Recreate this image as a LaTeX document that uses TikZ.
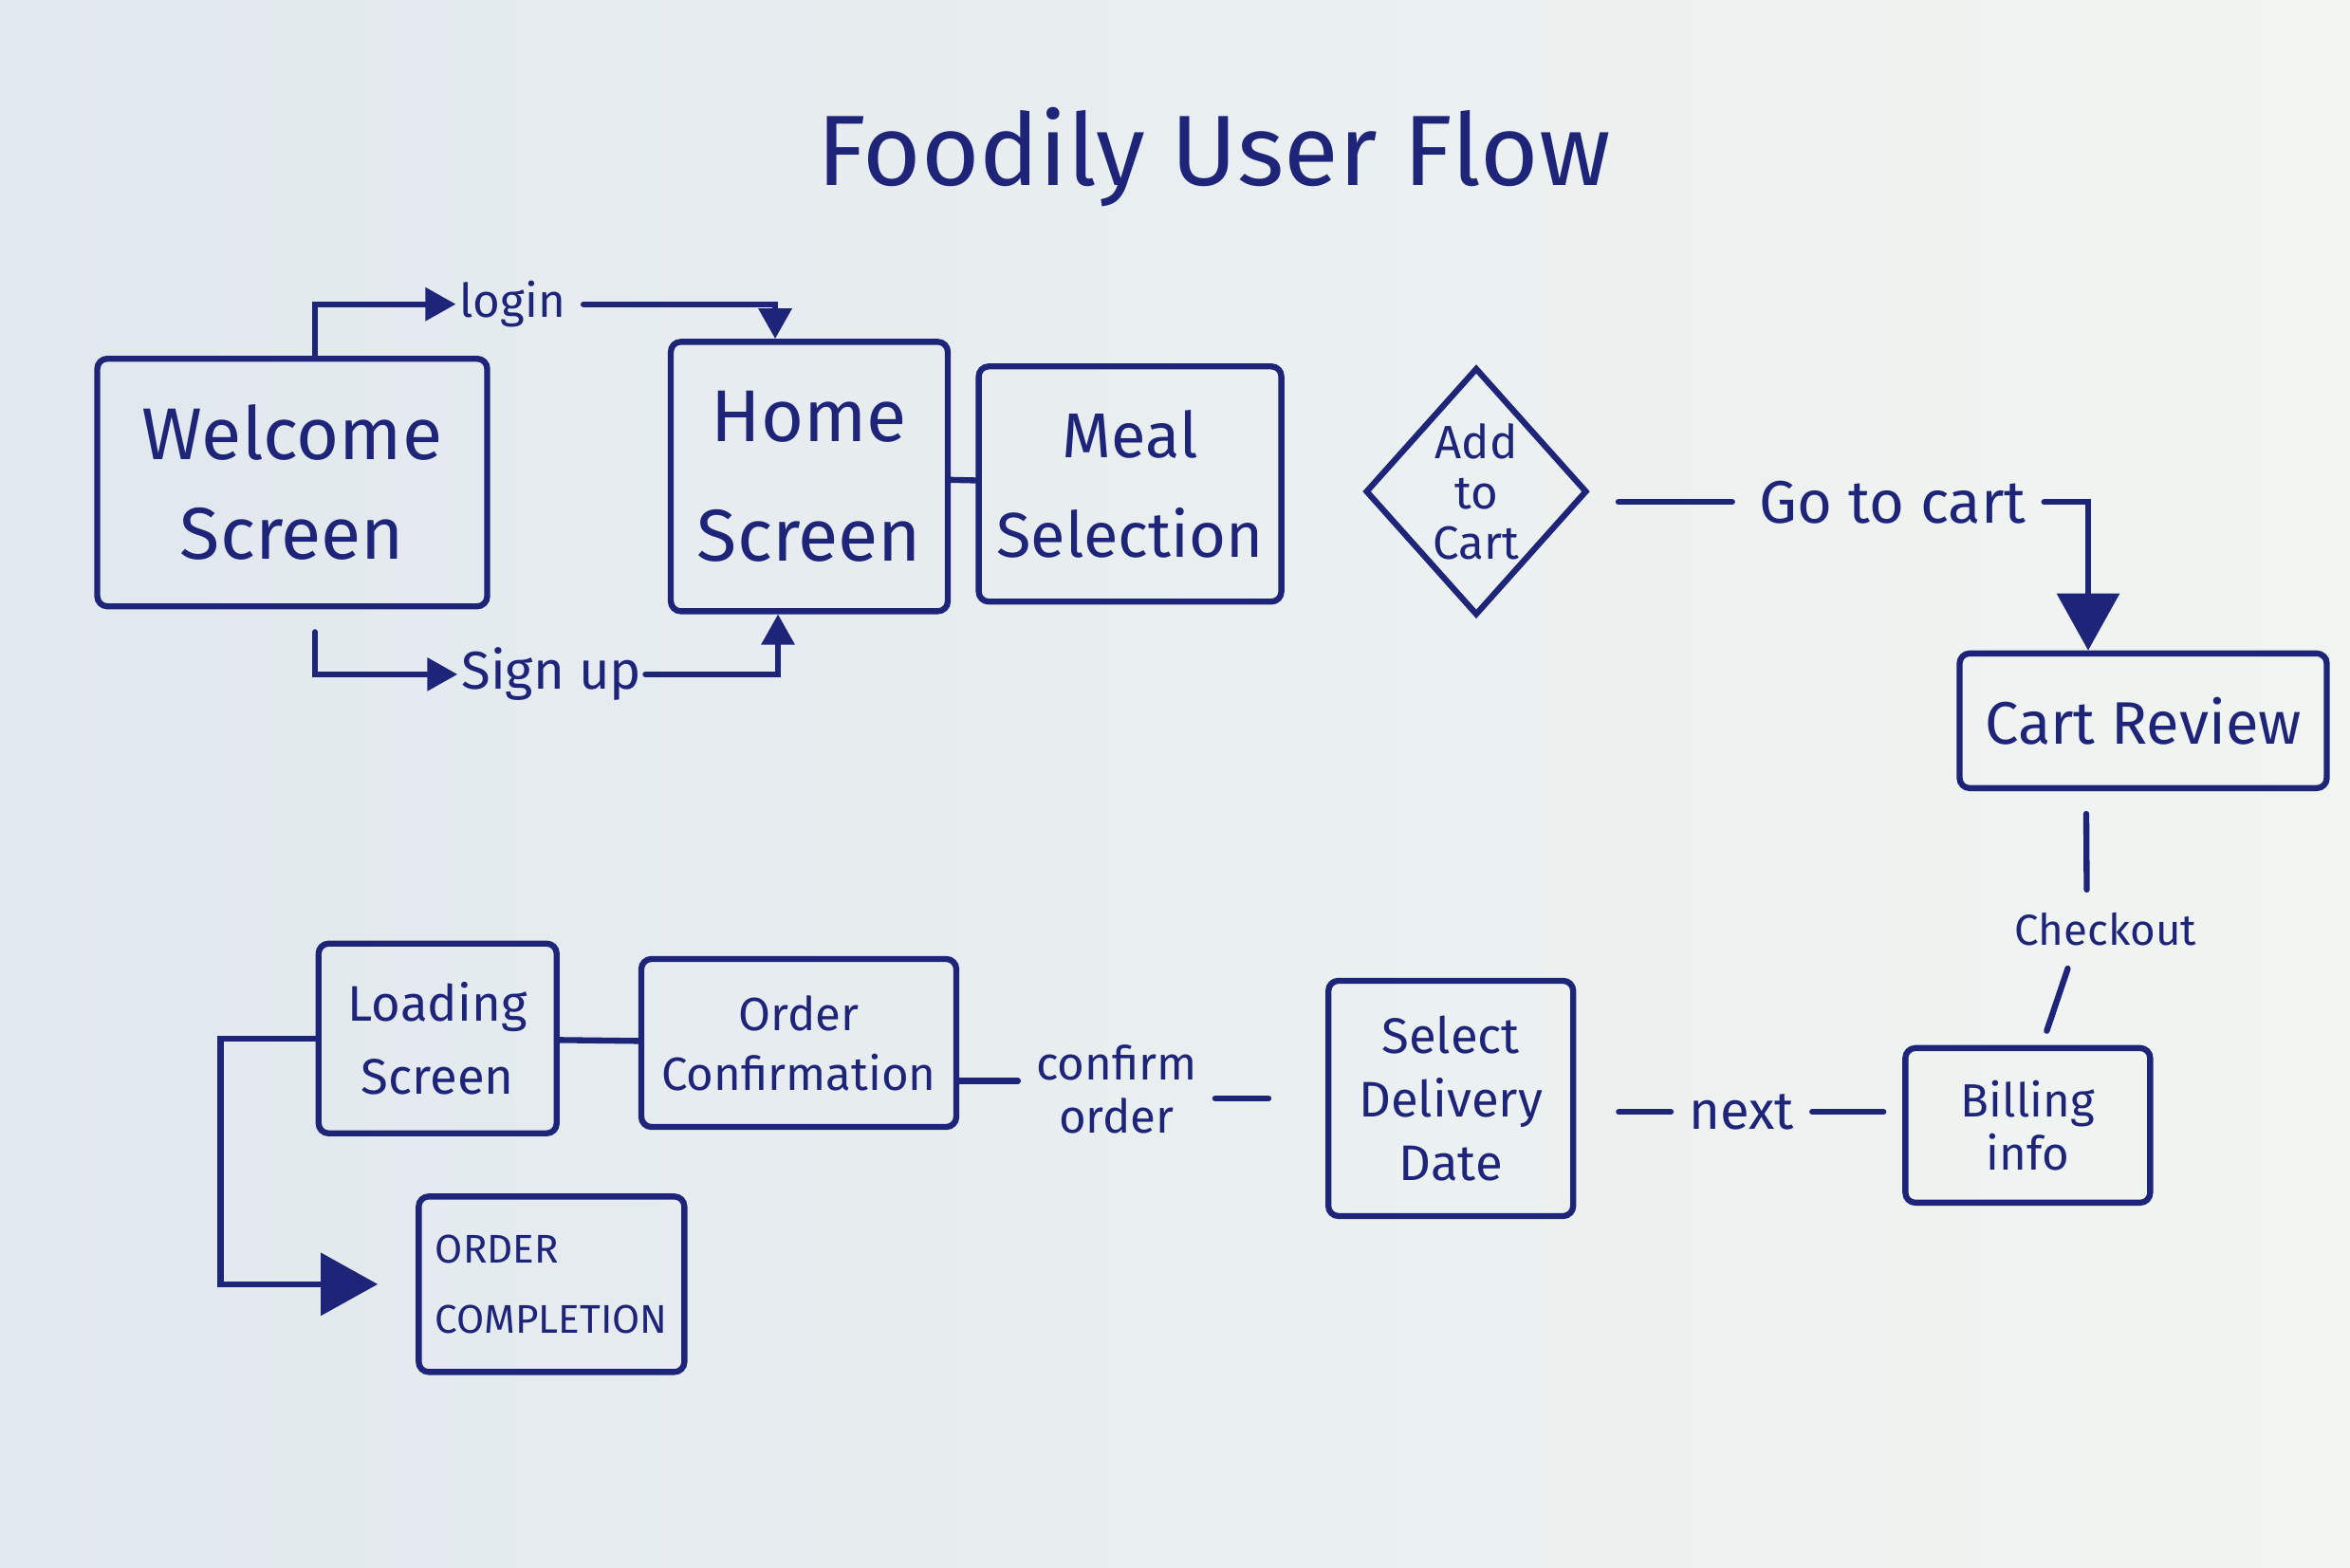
\documentclass[tikz,border=0pt]{standalone}
\usepackage{fontspec}
\setmainfont{Fira Sans}
\usetikzlibrary{arrows.meta,positioning,calc,shapes.geometric}
\definecolor{markerblue}{HTML}{1E2478}
\definecolor{boardleft}{HTML}{E1E8EE}
\definecolor{boardright}{HTML}{F1F5F1}

\begin{document}
\begin{tikzpicture}[x=0.15797mm, y=-0.15797mm,
    every node/.style={text=markerblue},
    screen/.style={draw=markerblue, line width=1.8pt, rounded corners=3pt, align=center, inner sep=2pt},
    flowlabel/.style={align=center, inner sep=1pt},
    wire/.style={draw=markerblue, line width=1.8pt, line cap=round},
    smallarr/.style={wire, -{Triangle[length=3.2mm,width=3.4mm]}},
    bigarr/.style={wire, -{Triangle[length=6mm,width=6.5mm]}}]
        % Whiteboard
        \fill[left color=boardleft, right color=boardright] (0,0) rectangle (1568,1046);
        \useasboundingbox (0,0) rectangle (1568,1046);
        \node (title) at (810,105) {\fontsize{30}{34}\selectfont Foodily User Flow};

        % Top row: entry screens
        \node[screen, minimum width=41.1mm, minimum height=26.1mm, font=\fontsize{22}{30}\selectfont] (welcome) at (195,322) {Welcome\\Screen};
        \node[screen, minimum width=29.2mm, minimum height=28.4mm, font=\fontsize{22}{36}\selectfont] (home) at (540,318) {Home\\Screen};
        \node[screen, minimum width=31.9mm, minimum height=24.8mm, font=\fontsize{19}{30}\selectfont] (meal) at (754,323) {Meal\\Selection};
        \node[draw=markerblue, line width=1.8pt, diamond, minimum width=22.1mm, minimum height=26.1mm, inner sep=0pt, align=center, font=\fontsize{14}{15}\selectfont] (addcart) at (985,328) {Add\\to\\Cart};

        \node[flowlabel, font=\fontsize{14}{16}\selectfont] (login) at (342,203) {login};
        \node[flowlabel, font=\fontsize{16}{18}\selectfont] (signup) at (368,450) {Sign up};
        \node[flowlabel, font=\fontsize{18}{20}\selectfont] (gocart) at (1263,335) {Go to cart};

        % Checkout path
        \node[screen, minimum width=38.7mm, minimum height=14.2mm, font=\fontsize{18}{20}\selectfont] (cartreview) at (1430,481) {Cart Review};
        \node[flowlabel, font=\fontsize{13}{15}\selectfont] (checkout) at (1405,620) {Checkout};
        \node[screen, minimum width=25.8mm, minimum height=16.3mm, font=\fontsize{14}{16}\selectfont] (billing) at (1353,751) {Billing\\info};
        \node[flowlabel, font=\fontsize{16}{18}\selectfont] (next) at (1162,742) {next};
        \node[screen, minimum width=25.8mm, minimum height=24.8mm, font=\fontsize{15}{19}\selectfont] (delivery) at (968,733) {Select\\Delivery\\Date};
        \node[flowlabel, font=\fontsize{14}{16}\selectfont] (confirm) at (745,727) {confirm\\order};
        \node[screen, minimum width=33.2mm, minimum height=17.7mm, font=\fontsize{14}{18}\selectfont] (orderconf) at (533,696) {Order\\Confirmation};
        \node[screen, minimum width=25.1mm, minimum height=20mm, font=\fontsize{15}{22}\selectfont] (loading) at (292,693) {Loading\\Screen};
        \node[screen, minimum width=28mm, minimum height=18.5mm, align=left, font=\fontsize{12}{21}\selectfont] (completion) at (368,857) {ORDER\\COMPLETION};

        % Connectors
        \draw[smallarr] ([xshift=2.4mm]welcome.north) |- (login.west);
        \draw[smallarr, shorten <=1.5mm] (login.east) -| ([xshift=-3.6mm]home.north);
        \draw[smallarr] ([xshift=2.4mm,yshift=-2.4mm]welcome.south) |- (signup.west);
        \draw[smallarr] (signup.east) -| ([xshift=-3.3mm]home.south);
        \draw[wire] (home) -- (meal);
        \draw[wire, shorten >=2.5mm] ([xshift=3mm]addcart.east |- gocart.west) -- (gocart.west);
        \draw[bigarr, shorten <=1.5mm] (gocart.east) -| ([xshift=-5.8mm]cartreview.north);
        \draw[wire] ([xshift=-6mm,yshift=-2.4mm]cartreview.south) -- ([xshift=-2mm,yshift=2mm]checkout.north);
        \draw[wire] ([xshift=-4mm,yshift=-2mm]checkout.south) -- ([xshift=2mm,yshift=1.5mm]billing.north);
        \draw[wire] ([xshift=-2mm]billing.west |- next.east) -- ([xshift=1.5mm]next.east);
        \draw[wire] ([xshift=-1.5mm]next.west) -- ([xshift=4.5mm]delivery.east |- next.west);
        \draw[wire] ([xshift=-6mm]delivery.west) -- ([xshift=1.5mm]confirm.east |- delivery.west);
        \draw[wire] ([yshift=-4mm]orderconf.east) -- ([xshift=-1.5mm,yshift=-4mm]orderconf.east -| confirm.west);
        \draw[wire] (orderconf) -- (loading);
        \draw[bigarr, shorten >=4mm] (loading.west) -- ++(-10mm,0) |- (completion.west);
\end{tikzpicture}
\end{document}
